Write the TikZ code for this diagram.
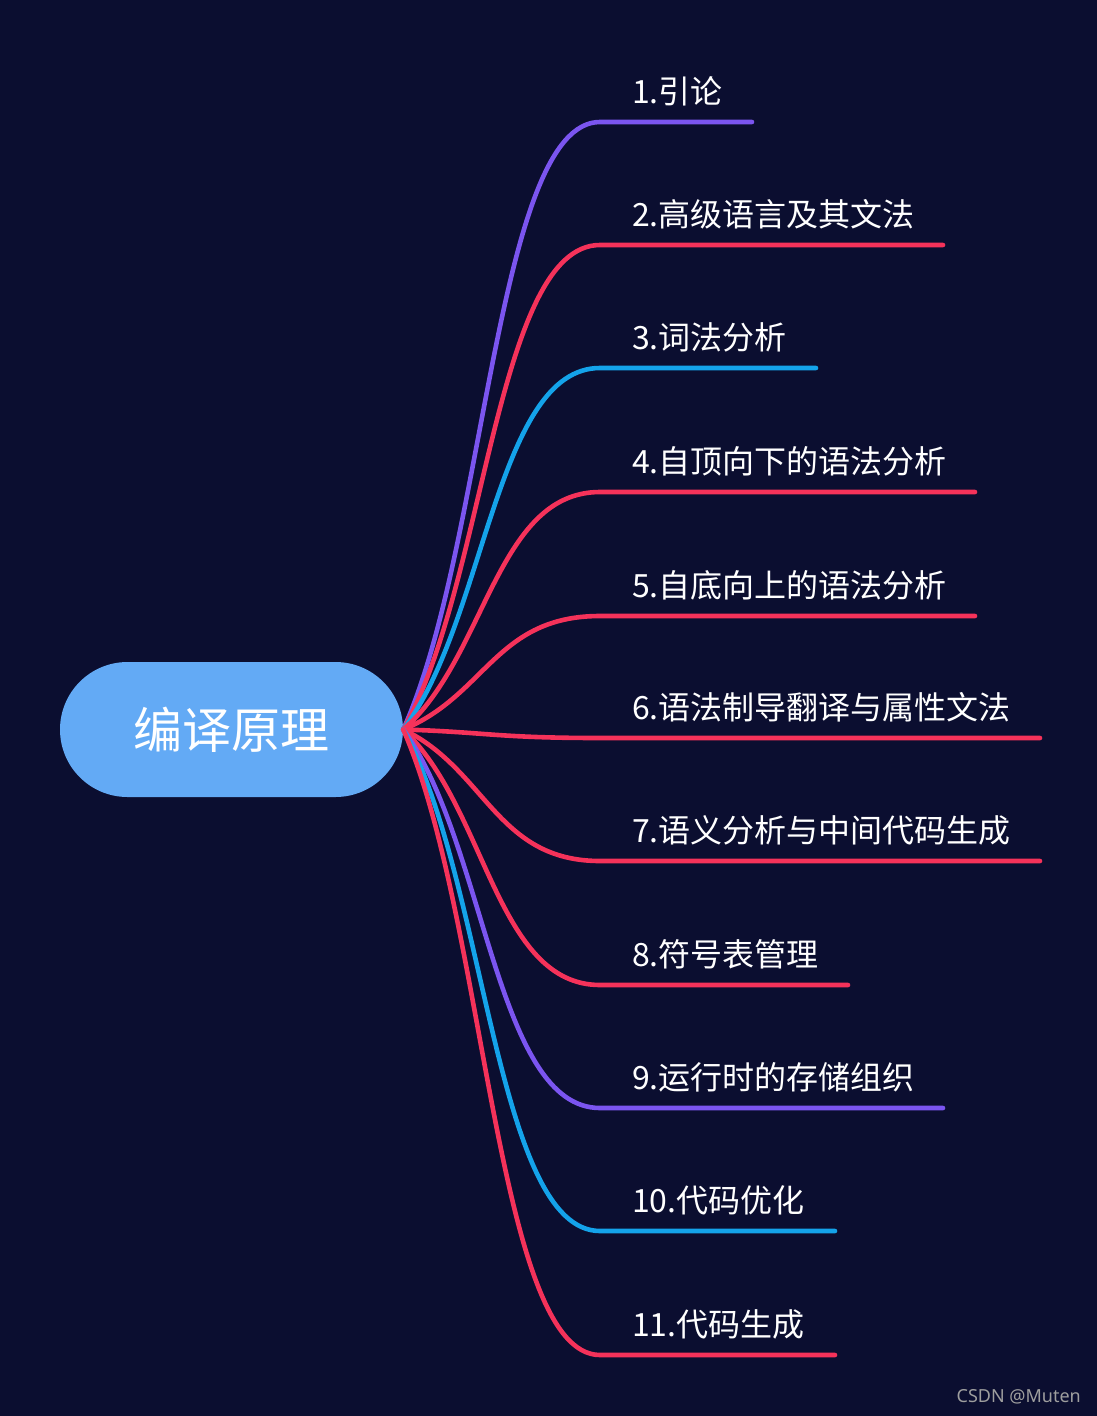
\documentclass[tikz,border=0pt]{standalone}
\usepackage{fontspec}
\setmainfont{Noto Sans CJK SC}
\newfontfamily\wmfont{Noto Sans}
\definecolor{bgc}{HTML}{0B0E30}
\definecolor{rootc}{HTML}{63AAF5}
\definecolor{cpurple}{HTML}{7B55F0}
\definecolor{cred}{HTML}{F5325A}
\definecolor{cblue}{HTML}{14A3EA}
\begin{document}
\begin{tikzpicture}[x=1pt,y=-1pt,
  rootbox/.style={fill=rootc, minimum width=343pt, minimum height=135pt, rounded corners=67.5pt, inner sep=0pt, text=white, font=\fontsize{49}{56}\selectfont},
  lbl/.style={anchor=west, inner sep=0pt, text=white, font=\fontsize{32}{38}\selectfont},
  branch/.style={line width=4.6pt, line cap=round}]
\fill[bgc] (0,0) rectangle (1097,1416);
\useasboundingbox (0,0) rectangle (1097,1416);
\node[rootbox] (root) at (231.5,729.5) {编译原理};
\foreach \i/\y/\xe/\c/\t in {
  1/122/752/cpurple/{1.引论},
  2/245/943/cred/{2.高级语言及其文法},
  3/368/816/cblue/{3.词法分析},
  4/492/975/cred/{4.自顶向下的语法分析},
  5/616/975/cred/{5.自底向上的语法分析},
  6/738/1040/cred/{6.语法制导翻译与属性文法},
  7/861/1040/cred/{7.语义分析与中间代码生成},
  8/985/848/cred/{8.符号表管理},
  9/1108/943/cpurple/{9.运行时的存储组织},
  10/1231/835/cblue/{10.代码优化},
  11/1355/835/cred/{11.代码生成}} {
  \pgfmathsetmacro\cy{729.5+0.3*(\y-729.5)}
  \coordinate (s\i) at (600,\y);
  \coordinate (e\i) at (\xe,\y);
  \node[lbl] (t\i) at (632,\y-31) {\t};
  \draw[branch,\c] (root.east) .. controls (486,\cy) and (496,\y) .. (s\i) -- (e\i);
}
\node[anchor=east, inner sep=0pt, text=black!38, font=\wmfont\fontsize{18}{22}\selectfont] (wm) at (1081,1397) {CSDN @Muten};
\end{tikzpicture}
\end{document}
